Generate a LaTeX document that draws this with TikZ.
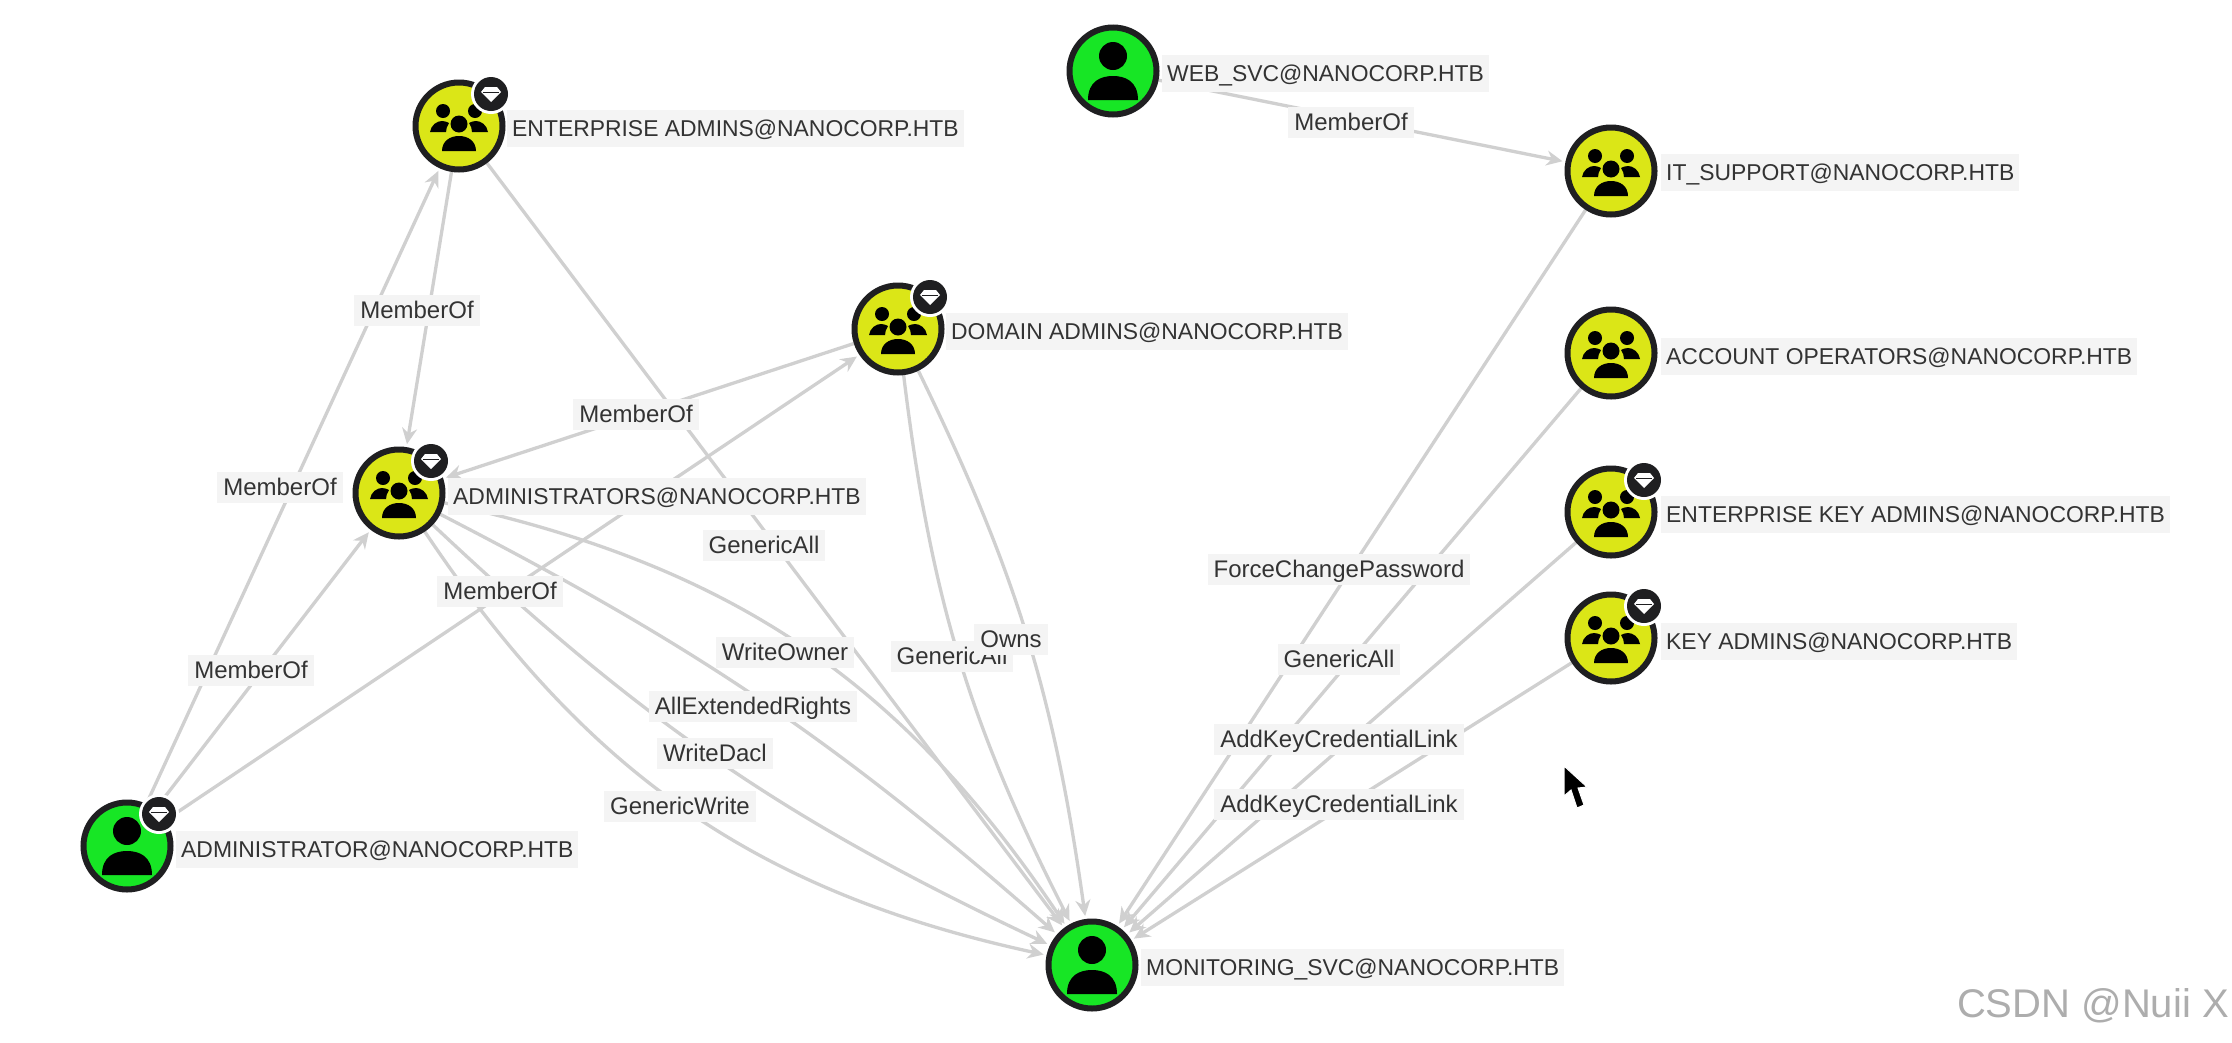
\documentclass[tikz,border=0pt]{standalone}
\usepackage{fontspec}
\setmainfont{Liberation Sans}
\usetikzlibrary{arrows.meta,backgrounds}
\definecolor{usergreen}{HTML}{17E625}
\definecolor{groupyellow}{HTML}{DBE617}
\definecolor{ringdark}{HTML}{1F1F21}
\definecolor{edgegrey}{HTML}{D0D0D0}
\definecolor{labelbg}{HTML}{F4F4F4}
\definecolor{labeltext}{HTML}{333333}
\tikzset{
  x=1pt,y=-1pt,
  usernode/.style={circle,draw=ringdark,line width=6pt,fill=usergreen,minimum size=87pt,inner sep=0pt},
  groupnode/.style={circle,draw=ringdark,line width=6pt,fill=groupyellow,minimum size=87pt,inner sep=0pt},
  nodetext/.style={anchor=west,fill=labelbg,text=labeltext,font=\fontsize{22.9}{24}\selectfont,inner xsep=5pt,inner ysep=10pt,text height=17pt,text depth=0pt},
  edgetext/.style={fill=labelbg,text=labeltext,font=\fontsize{24}{26}\selectfont,inner xsep=6pt,inner ysep=7pt,text height=17pt,text depth=0pt},
  rel/.style={draw=edgegrey,line width=3.3pt,shorten >=3pt,-{Stealth[length=16pt,width=15pt]}},
  pics/person/.style={code={
    \fill[black] (0,-15) circle (14);
    \fill[black] (-25,29) .. controls (-25,10) and (-12,5) .. (0,5) .. controls (12,5) and (25,10) .. (25,29) -- cycle;
  }},
  pics/group/.style={code={
    \fill[black] (-16,-15) circle (7);
    \fill[black] (16,-15) circle (7);
    \fill[black] (-29,6) .. controls (-28,-1) and (-22,-5) .. (-17,-5) .. controls (-14,-5) and (-12,-4) .. (-10,-3) .. controls (-12,0) and (-13,3) .. (-13,6) -- cycle;
    \fill[black] (29,6) .. controls (28,-1) and (22,-5) .. (17,-5) .. controls (14,-5) and (12,-4) .. (10,-3) .. controls (12,0) and (13,3) .. (13,6) -- cycle;
    \fill[black] (0,-2) circle (8.5);
    \fill[black] (-17,25) .. controls (-17,15) and (-9,10) .. (0,10) .. controls (9,10) and (17,15) .. (17,25) -- cycle;
  }},
  pics/gem/.style={code={
    \fill[white] (0,0) circle (20);
    \fill[ringdark] (0,0) circle (17);
    \fill[white] (-6,-7) -- (6,-7) -- (10,-2) -- (0,8) -- (-10,-2) -- cycle;
    \draw[ringdark,line width=.8pt] (-8,-2) -- (8,-2);
  }},
}
\begin{document}
\begin{tikzpicture}
\useasboundingbox (0,0) rectangle (2232,1042);

% nodes
\node[groupnode] (ea) at (459,126) {};
\node[groupnode] (da) at (898,329) {};
\node[groupnode] (adms) at (399,493) {};
\node[usernode] (admin) at (127,846) {};
\node[usernode] (mon) at (1092,965) {};
\node[usernode] (web) at (1113,71) {};
\node[groupnode] (its) at (1611,171) {};
\node[groupnode] (acc) at (1611,353) {};
\node[groupnode] (eka) at (1611,512) {};
\node[groupnode] (ka) at (1611,638) {};

% icons
\pic at (ea) {group};
\pic at (da) {group};
\pic at (adms) {group};
\pic at (its) {group};
\pic at (acc) {group};
\pic at (eka) {group};
\pic at (ka) {group};
\pic at (admin) {person};
\pic at (mon) {person};
\pic at (web) {person};

% badges
\pic at (491,94) {gem};
\pic at (930,297) {gem};
\pic at (431,461) {gem};
\pic at (159,814) {gem};
\pic at (1644,480) {gem};
\pic at (1644,606) {gem};

% connectors
\begin{scope}[on background layer]
\fill[white] (0,0) rectangle (2232,1042);
\draw[rel] (web) -- (its);
\draw[rel] (admin) -- (ea);
\draw[rel] (ea) -- (adms);
\draw[rel] (admin) -- (adms);
\draw[rel] (admin) -- (da);
\draw[rel] (da) -- (adms);
\draw[rel] (ea) -- (mon);
\draw[rel] (adms) to[bend left=22] (mon);
\draw[rel] (adms) to[bend left=7] (mon);
\draw[rel] (adms) to[bend right=9] (mon);
\draw[rel] (adms) to[bend right=22] (mon);
\draw[rel] (da) to[bend right=10] (mon);
\draw[rel] (da) to[bend left=9] (mon);
\draw[rel] (its) -- (mon);
\draw[rel] (acc) -- (mon);
\draw[rel] (eka) -- (mon);
\draw[rel] (ka) -- (mon);
\end{scope}

% node labels
\node[nodetext] (tea) at (507,128) {ENTERPRISE ADMINS@NANOCORP.HTB};
\node[nodetext] (tda) at (946,331) {DOMAIN ADMINS@NANOCORP.HTB};
\node[nodetext] (tadms) at (448,496) {ADMINISTRATORS@NANOCORP.HTB};
\node[nodetext] (tadmin) at (176,849) {ADMINISTRATOR@NANOCORP.HTB};
\node[nodetext] (tmon) at (1141,967) {MONITORING\_SVC@NANOCORP.HTB};
\node[nodetext] (tweb) at (1162,73) {WEB\_SVC@NANOCORP.HTB};
\node[nodetext] (tits) at (1661,172) {IT\_SUPPORT@NANOCORP.HTB};
\node[nodetext] (tacc) at (1661,356) {ACCOUNT OPERATORS@NANOCORP.HTB};
\node[nodetext] (teka) at (1661,514) {ENTERPRISE KEY ADMINS@NANOCORP.HTB};
\node[nodetext] (tka) at (1661,641) {KEY ADMINS@NANOCORP.HTB};

% connector labels
\node[edgetext] (l1) at (1351,122) {MemberOf};
\node[edgetext] (l2) at (280,487) {MemberOf};
\node[edgetext] (l3) at (417,310) {MemberOf};
\node[edgetext] (l4) at (251,670) {MemberOf};
\node[edgetext] (l5) at (500,591) {MemberOf};
\node[edgetext] (l6) at (636,414) {MemberOf};
\node[edgetext] (l7) at (764,545) {GenericAll};
\node[edgetext] (l8) at (785,652) {WriteOwner};
\node[edgetext] (l9) at (753,706) {AllExtendedRights};
\node[edgetext] (l10) at (715,753) {WriteDacl};
\node[edgetext] (l11) at (680,806) {GenericWrite};
\node[edgetext] (l12) at (952,656) {GenericAll};
\node[edgetext] (l13) at (1011,639) {Owns};
\node[edgetext] (l14) at (1339,569) {ForceChangePassword};
\node[edgetext] (l15) at (1339,659) {GenericAll};
\node[edgetext] (l16) at (1339,739) {AddKeyCredentialLink};
\node[edgetext] (l17) at (1339,804) {AddKeyCredentialLink};

% pointer and watermark
\fill[black,draw=white,line width=1pt] (1564,766) -- (1564,796) -- (1571,790) -- (1577,808) -- (1584,805) -- (1578,788) -- (1587,787) -- cycle;
\node[anchor=east,text=black!32,font=\fontsize{40}{44}\selectfont,inner sep=0pt] (wm) at (2229,1006) {CSDN @Nuii X};
\end{tikzpicture}
\end{document}
